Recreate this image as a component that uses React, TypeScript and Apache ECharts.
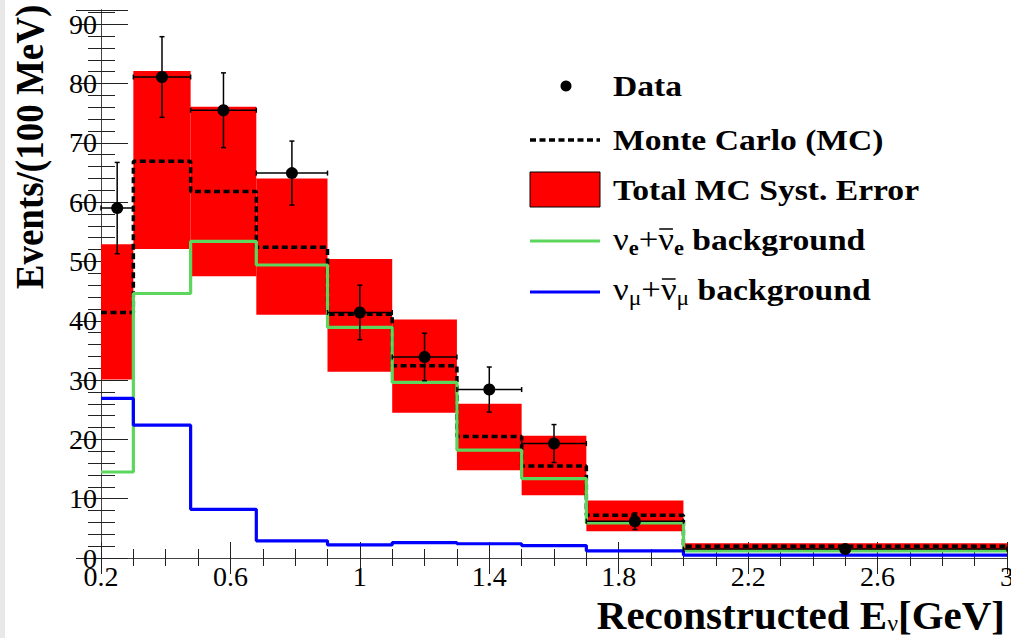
import { useEffect, useRef } from "react";
import * as echarts from "echarts";

// Histogram binning (GeV) and per-bin contents (events / 100 MeV)
const binEdges = [0.2, 0.3, 0.477, 0.68, 0.9, 1.1, 1.3, 1.5, 1.7, 2.0, 3.0];
const dataCounts = [59.0, 81.1, 75.5, 64.9, 41.4, 33.9, 28.4, 19.3, 6.2, 1.5];
const dataErrors = [7.7, 6.8, 6.3, 5.4, 4.6, 4.0, 3.8, 3.2, 1.4, 0.5];
const monteCarlo = [41.4, 66.9, 61.8, 52.4, 41.1, 32.4, 20.5, 15.5, 7.2, 2.0];
const systLow = [30.1, 52.1, 47.5, 41.0, 31.4, 24.5, 14.8, 10.6, 4.5, 1.0];
const systHigh = [52.9, 82.1, 76.1, 64.0, 50.4, 40.2, 26.0, 20.6, 9.7, 2.5];
const nueBackground = [14.5, 44.6, 53.4, 49.4, 38.9, 29.6, 18.2, 13.4, 5.9, 1.2];
const numuBackground = [26.9, 22.4, 8.2, 2.9, 2.2, 2.6, 2.4, 2.1, 1.2, 0.5];

// Axis ranges and tick labels
const xMin = 0.2;
const xMax = 3.0;
const xStep = 0.4;
const xTickLabels = ["0.2", "0.6", "1", "1.4", "1.8", "2.2", "2.6", "3"];
const yMax = 92.4;
const yStep = 10;

const SERIF = '"Liberation Serif", "Times New Roman", serif';

// The x axis runs on an offset scale so that major ticks start at 0.2
const sx = (x: number) => +(x - xMin).toFixed(4);

function stepData(values: number[]) {
  const pts = values.map((v, i) => [sx(binEdges[i]), v]);
  pts.push([sx(binEdges[binEdges.length - 1]), values[values.length - 1]]);
  return pts;
}

// Text width helper, used to place the bar over the antineutrino symbol
function textWidth(text: string, font: string) {
  const ctx = document.createElement("canvas").getContext("2d");
  if (!ctx) return text.length * 12;
  ctx.font = font;
  return ctx.measureText(text).width;
}

export default function App() {
  const ref = useRef<HTMLDivElement>(null);

  useEffect(() => {
    if (!ref.current) return;
    const chart = echarts.init(ref.current, undefined, { renderer: "svg" });

    const systBoxes = systLow.map((lo, i) => [
      sx(binEdges[i]),
      sx(binEdges[i + 1]),
      lo,
      systHigh[i],
    ]);
    const points = dataCounts.map((v, i) => [
      sx((binEdges[i] + binEdges[i + 1]) / 2),
      sx(binEdges[i]),
      sx(binEdges[i + 1]),
      v,
      dataErrors[i],
    ]);

    const tickColor = "#222";
    const frameColor = "#444";

    const xAxisBase = {
      type: "value" as const,
      min: 0,
      max: sx(xMax),
      interval: xStep,
      axisLine: { show: true, lineStyle: { color: frameColor, width: 1 } },
      splitLine: { show: false },
    };
    const yAxisBase = {
      type: "value" as const,
      min: 0,
      max: yMax,
      interval: yStep,
      axisLine: { show: true, lineStyle: { color: frameColor, width: 1 } },
      splitLine: { show: false },
    };

    const legendX = 613;
    const legendScale = 1.12;
    const legendText = (y: number, text: string, rich?: any) => ({
      type: "text",
      x: legendX,
      y,
      scaleX: legendScale,
      style: {
        text,
        fill: "#000",
        fontFamily: SERIF,
        fontWeight: "bold",
        fontSize: 30,
        align: "left",
        verticalAlign: "middle",
        rich,
      },
    });

    const nuFont = `normal 31px ${SERIF}`;
    const subBold = `bold 20px ${SERIF}`;
    const subNorm = `normal 21px ${SERIF}`;
    const nuRich = {
      n: { fontFamily: SERIF, fontWeight: "normal", fontSize: 31, lineHeight: 36, fill: "#000" },
      b: { fontFamily: SERIF, fontWeight: "bold", fontSize: 30, lineHeight: 36, fill: "#000" },
      s: {
        fontFamily: SERIF,
        fontWeight: "bold",
        fontSize: 20,
        lineHeight: 22,
        verticalAlign: "bottom",
        fill: "#000",
      },
      sm: {
        fontFamily: SERIF,
        fontWeight: "normal",
        fontSize: 21,
        lineHeight: 22,
        verticalAlign: "bottom",
        fill: "#000",
      },
    };

    // Bar over the second ν in each background entry
    const nuW = textWidth("ν", nuFont);
    const plusW = textWidth("+", nuFont);
    const barFor = (y: number, subW: number) => {
      const x0 = legendX + legendScale * (nuW + subW + plusW);
      return {
        type: "line",
        shape: { x1: x0 + 1, y1: y - 11, x2: x0 + legendScale * nuW - 1, y2: y - 11 },
        style: { stroke: "#000", lineWidth: 1.5 },
      };
    };

    chart.setOption({
      animation: false,
      backgroundColor: "#ffffff",
      grid: { left: 101, right: 4, top: 10, bottom: 80, outerBoundsMode: "none" },
      xAxis: [
        {
          ...xAxisBase,
          position: "bottom",
          axisTick: { show: true, inside: true, length: 16, lineStyle: { color: tickColor } },
          minorTick: { show: true, splitNumber: 4, length: 9, lineStyle: { color: tickColor } },
          axisLabel: {
            show: true,
            margin: 4,
            color: "#000",
            fontFamily: SERIF,
            fontSize: 28,
            formatter: (v: number) => xTickLabels[Math.round(v / xStep)] ?? "",
          },
        },
        {
          ...xAxisBase,
          position: "top",
          axisTick: { show: true, inside: true, length: 16, lineStyle: { color: tickColor } },
          minorTick: { show: true, splitNumber: 4, length: 8, lineStyle: { color: tickColor } },
          axisLabel: { show: false },
        },
      ],
      yAxis: [
        {
          ...yAxisBase,
          position: "left",
          axisTick: { show: true, inside: true, length: 27, lineStyle: { color: tickColor } },
          minorTick: { show: true, splitNumber: 5, length: 14, lineStyle: { color: tickColor } },
          axisLabel: {
            show: true,
            margin: 4,
            color: "#000",
            fontFamily: SERIF,
            fontSize: 28,
            showMaxLabel: false,
            formatter: (v: number) => (Math.abs(v % yStep) < 1e-6 ? String(v) : ""),
          },
        },
        {
          ...yAxisBase,
          position: "right",
          axisTick: { show: true, inside: true, length: 25, lineStyle: { color: tickColor } },
          minorTick: { show: true, splitNumber: 5, length: 13, lineStyle: { color: tickColor } },
          axisLabel: { show: false },
        },
      ],
      series: [
        {
          type: "custom",
          name: "Total MC Syst. Error",
          z: 1,
          xAxisIndex: 0,
          yAxisIndex: 0,
          encode: { x: [0, 1], y: [2, 3] },
          data: systBoxes,
          renderItem: (_p: any, api: any) => {
            const a = api.coord([api.value(0), api.value(3)]);
            const b = api.coord([api.value(1), api.value(2)]);
            return {
              type: "rect",
              shape: { x: a[0], y: a[1], width: b[0] - a[0], height: b[1] - a[1] },
              style: { fill: "#ff0000" },
            };
          },
        },
        {
          type: "line",
          name: "Monte Carlo (MC)",
          z: 2,
          step: "end",
          symbol: "none",
          data: stepData(monteCarlo),
          lineStyle: { color: "#000", width: 3.5, type: [6, 3.5] },
        },
        {
          type: "line",
          name: "nue",
          z: 3,
          step: "end",
          symbol: "none",
          data: stepData(nueBackground),
          lineStyle: { color: "#5cd65c", width: 3.2 },
        },
        {
          type: "line",
          name: "numu",
          z: 4,
          step: "end",
          symbol: "none",
          data: stepData(numuBackground),
          lineStyle: { color: "#0000ff", width: 3.2 },
        },
        {
          type: "custom",
          name: "Data",
          z: 5,
          encode: { x: [0, 1, 2], y: [3] },
          data: points,
          renderItem: (_p: any, api: any) => {
            const xc = api.value(0);
            const y = api.value(3);
            const e = api.value(4);
            const c = api.coord([xc, y]);
            const l = api.coord([api.value(1), y]);
            const r = api.coord([api.value(2), y]);
            const t = api.coord([xc, y + e]);
            const bt = api.coord([xc, y - e]);
            const ls = { stroke: "#000", lineWidth: 1.5 };
            const cap = 2.5;
            const ln = (x1: number, y1: number, x2: number, y2: number) => ({
              type: "line",
              shape: { x1, y1, x2, y2 },
              style: ls,
            });
            return {
              type: "group",
              children: [
                ln(l[0], c[1], r[0], c[1]),
                ln(l[0], c[1] - cap, l[0], c[1] + cap),
                ln(r[0], c[1] - cap, r[0], c[1] + cap),
                ln(c[0], t[1], c[0], bt[1]),
                ln(c[0] - cap, t[1], c[0] + cap, t[1]),
                ln(c[0] - cap, bt[1], c[0] + cap, bt[1]),
                { type: "circle", shape: { cx: c[0], cy: c[1], r: 6 }, style: { fill: "#000" } },
              ],
            };
          },
        },
      ],
      graphic: [
        { type: "rect", left: 0, top: 0, shape: { width: 5, height: 638 }, style: { fill: "#e8e8e8" } },
        // Axis titles
        {
          type: "text",
          x: 29,
          y: 147,
          rotation: Math.PI / 2,
          scaleY: 1.1,
          style: {
            text: "Events/(100 MeV)",
            fill: "#000",
            fontFamily: SERIF,
            fontWeight: "bold",
            fontSize: 37,
            align: "center",
            verticalAlign: "middle",
          },
        },
        {
          type: "text",
          x: 1005,
          y: 615,
          style: {
            text: "{b|Reconstructed E}{s|ν}{b|[GeV]}",
            fill: "#000",
            align: "right",
            verticalAlign: "middle",
            rich: {
              b: { fontFamily: SERIF, fontWeight: "bold", fontSize: 41, lineHeight: 40, fill: "#000" },
              s: {
                fontFamily: SERIF,
                fontWeight: "normal",
                fontSize: 24,
                lineHeight: 20,
                verticalAlign: "bottom",
                fill: "#000",
              },
            },
          },
        },
        // Legend
        { type: "circle", shape: { cx: 566, cy: 86, r: 5.5 }, style: { fill: "#000" } },
        legendText(86, "Data"),
        {
          type: "line",
          shape: { x1: 530, y1: 140, x2: 600, y2: 140 },
          style: { stroke: "#000", lineWidth: 3.5, lineDash: [6, 3.5] },
        },
        legendText(140, "Monte Carlo (MC)"),
        {
          type: "rect",
          shape: { x: 530, y: 172, width: 70, height: 35 },
          style: { fill: "#ff0000", stroke: "#000", lineWidth: 1 },
        },
        legendText(190, "Total MC Syst. Error"),
        {
          type: "line",
          shape: { x1: 530, y1: 241, x2: 600, y2: 241 },
          style: { stroke: "#5cd65c", lineWidth: 3.2 },
        },
        legendText(240, "{n|ν}{s|e}{n|+ν}{s|e}{b| background}", nuRich),
        barFor(240, textWidth("e", subBold)),
        {
          type: "line",
          shape: { x1: 530, y1: 292, x2: 600, y2: 292 },
          style: { stroke: "#0000ff", lineWidth: 3.2 },
        },
        legendText(290, "{n|ν}{sm|μ}{n|+ν}{sm|μ}{b| background}", nuRich),
        barFor(290, textWidth("μ", subNorm)),
      ],
    });

    return () => chart.dispose();
  }, []);

  return (
    <div
      ref={ref}
      style={{ position: "fixed", left: 0, top: 0, width: 1011, height: 638, background: "#fff" }}
    />
  );
}
